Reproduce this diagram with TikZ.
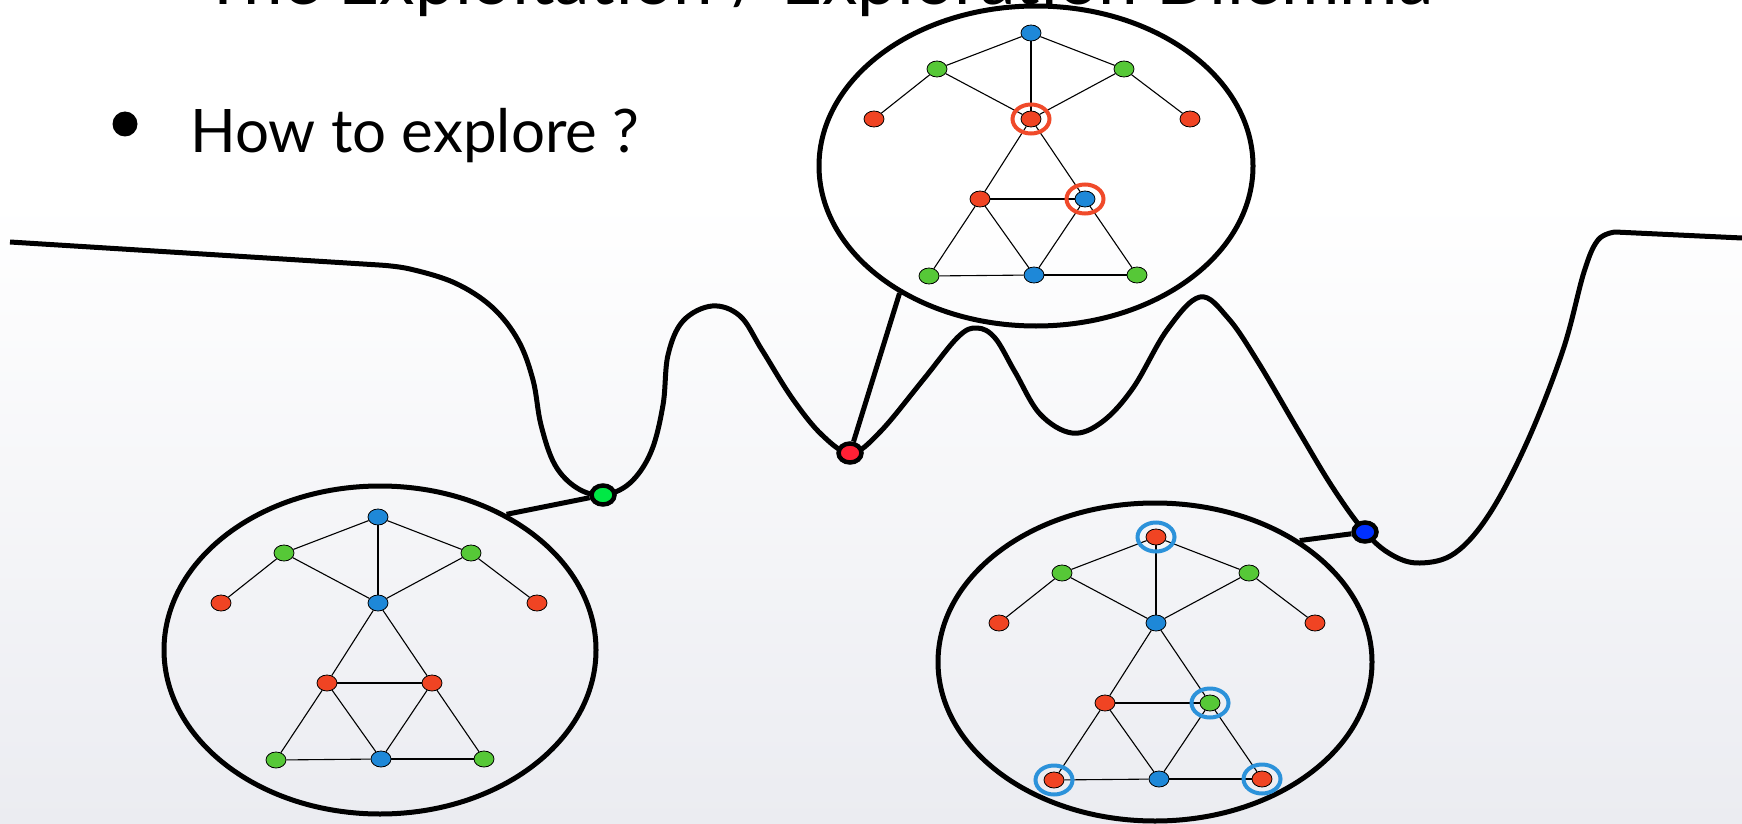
\documentclass[tikz,border=0pt]{standalone}
\usepackage{fontspec}
\setmainfont{Lato}
\usetikzlibrary{shapes.geometric}
\definecolor{nodered}{HTML}{F04423}
\definecolor{nodegreen}{HTML}{56C837}
\definecolor{nodeblue}{HTML}{1E88D8}
\definecolor{ringred}{HTML}{F04A2A}
\definecolor{ringblue}{HTML}{2C92DA}
\definecolor{dotgreen}{HTML}{00E845}
\definecolor{dotred}{HTML}{FF2035}
\definecolor{dotblue}{HTML}{0030FF}
\definecolor{bggray}{HTML}{EBECF1}

\newcommand{\drawgraph}[3]{%
  \begin{scope}[shift={(#2)}]
    \foreach \n/\dx/\dy [count=\i from 0] in {t/0/0,gl/-94/36,gr/93/36,rl/-157/86,c/0/86,rr/159/86,ml/-51/166,mr/54/166,bl/-102/243,bc/3/242,br/106/242}{
      \pgfmathsetmacro\gcol{#3[\i]}
      \node[gnode,fill=\gcol] (#1\n) at (\dx,\dy) {};
    }
    \foreach \a/\b in {t/gl,t/gr,t/c,gl/rl,gl/c,gr/c,gr/rr,c/ml,c/mr,ml/mr,ml/bl,ml/bc,mr/bc,mr/br,bl/bc,bc/br}
      \draw[gedge] (#1\a) -- (#1\b);
  \end{scope}
}

\begin{document}
\begin{tikzpicture}[x=1pt,y=-1pt,
  gnode/.style={ellipse,draw,line width=0.8pt,minimum width=20,minimum height=16,inner sep=0},
  gedge/.style={line width=1.1pt},
  bubble/.style={ellipse,draw,line width=5pt,inner sep=0},
  dot/.style={ellipse,draw,line width=4.5pt,fill=#1,minimum width=23,minimum height=19,inner sep=0},
  ring/.style={draw=#1,line width=4pt},
  link/.style={line width=5pt}]
\useasboundingbox (0,0) rectangle (1742,824);
\fill[white] (0,0) rectangle (1742,200);
\shade[top color=white,bottom color=bggray] (0,200) rectangle (1742,824);

\node[anchor=base west,inner sep=0,font=\fontsize{71}{80}\selectfont] (title) at (202,5) {The Exploitation / Exploration Dilemma};
\node[circle,fill,minimum size=25,inner sep=0] (bullet) at (125,124) {};
\node[anchor=base west,inner sep=0,font=\fontsize{60}{70}\selectfont] (question) at (190,152) {How to explore ?};

\node[bubble,minimum width=432,minimum height=328] (ellL) at (380,650) {};
\node[bubble,minimum width=434,minimum height=320] (ellT) at (1036,166) {};
\node[bubble,minimum width=434,minimum height=318] (ellR) at (1155,662) {};

\draw[line width=5pt,line join=round] (10,242) -- plot[smooth,tension=0.6] coordinates {(379,265) (410,269) (455,283) (492,307) (518,340) (533,380) (541,425) (555,465) (577,488) (603,495) (630,483) (651,452) (663,405) (668,355) (683,321) (712,306) (740,316) (762,350) (792,398) (822,435) (851,453) (880,432) (923,380) (958,337) (977,328) (995,338) (1015,372) (1040,414) (1072,433) (1102,422) (1133,388) (1167,330) (1200,297) (1228,318) (1258,362) (1298,430) (1333,488) (1365,532) (1392,555) (1420,563) (1455,553) (1490,513) (1528,440) (1563,350) (1584,272) (1598,240) (1615,232)} -- (1742,238);

\node[dot=dotgreen] (gdot) at (603,495) {};
\node[dot=dotred] (rdot) at (850,453) {};
\node[dot=dotblue] (bdot) at (1365,532) {};
\draw[link] (gdot) -- (ellL.47);
\draw[link] (rdot) -- (ellT.223);
\draw[link] (bdot) -- (ellR.40);

\drawgraph{L}{378,517}{{"nodeblue","nodegreen","nodegreen","nodered","nodeblue","nodered","nodered","nodered","nodegreen","nodeblue","nodegreen"}}
\drawgraph{T}{1031,33}{{"nodeblue","nodegreen","nodegreen","nodered","nodered","nodered","nodered","nodeblue","nodegreen","nodeblue","nodegreen"}}
\drawgraph{R}{1156,537}{{"nodered","nodegreen","nodegreen","nodered","nodeblue","nodered","nodered","nodegreen","nodered","nodeblue","nodered"}}

\draw[ring=ringred] (Tc.center) circle[x radius=18.5,y radius=14.5];
\draw[ring=ringred] (Tmr.center) circle[x radius=18.5,y radius=14.5];
\foreach \n in {t,mr,bl,br}
  \draw[ring=ringblue] (R\n.center) circle[x radius=18.5,y radius=14.5];
\end{tikzpicture}
\end{document}
